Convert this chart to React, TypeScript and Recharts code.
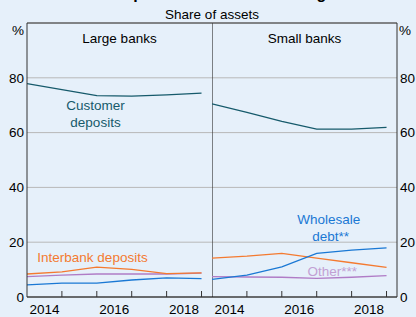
import React from 'react';
import { LineChart, Line, XAxis, YAxis, CartesianGrid, ReferenceLine } from 'recharts';

// year boundaries (labels sit in the middle of each year)
const years = [2014, 2015, 2016, 2017, 2018, 2019];
const yearTicks = [2014, 2015, 2016, 2017, 2018, 2019];
const labelYears = [2014, 2016, 2018];
const yTicks = [0, 20, 40, 60, 80];

const largeCustomer = [77.9, 75.7, 73.5, 73.3, 73.8, 74.4];
const largeInterbank = [8.4, 9.2, 10.9, 10.1, 8.5, 8.8];
const largeWholesale = [4.4, 5.1, 5.1, 6.2, 7.0, 6.7];
const largeOther = [7.4, 8.0, 8.4, 8.4, 8.4, 8.7];

const smallCustomer = [70.5, 67.4, 64.1, 61.3, 61.3, 61.9];
const smallInterbank = [14.2, 14.9, 15.9, 14.2, 12.5, 10.8];
const smallWholesale = [6.4, 8.0, 11.0, 15.9, 17.1, 17.9];
const smallOther = [7.4, 7.3, 7.2, 6.8, 7.2, 7.8];

const C_CUST = '#165a6b';
const C_INTER = '#f47a30';
const C_WHOLE = '#1a78d4';
const C_OTHER = '#b07cc6';
const FRAME = '#333333';
const FONT = '"Liberation Sans", Arial, sans-serif';

const build = (c: number[], i: number[], w: number[], o: number[]) =>
  years.map((yr, k) => ({ yr, cust: c[k], inter: i[k], whole: w[k], other: o[k] }));

const largeData = build(largeCustomer, largeInterbank, largeWholesale, largeOther);
const smallData = build(smallCustomer, smallInterbank, smallWholesale, smallOther);

const YearTick = (props: any) => {
  const { x, y, payload } = props;
  const v = payload.value;
  return (
    <g>
      {v !== 2014 && <line x1={x} y1={y} x2={x} y2={y - 6} stroke={FRAME} strokeWidth={1} />}
      {labelYears.includes(v) && (
        <text x={x + 17.4} y={y + 17} textAnchor="middle" fontSize={13.5} fill="#000" fontFamily={FONT}>
          {v}
        </text>
      )}
    </g>
  );
};

const Panel = ({ data, side }: { data: any[]; side: 'left' | 'right' }) => (
  <LineChart
    width={side === 'left' ? 212 : 204}
    height={317}
    data={data}
    margin={{ top: 23, right: 0, left: 0, bottom: 0 }}
  >
    <CartesianGrid vertical={false} stroke="#b8b8b8" strokeWidth={1} />
    <XAxis
      dataKey="yr"
      type="number"
      domain={[2014, 2019.3]}
      ticks={yearTicks}
      allowDataOverflow
      height={20}
      tickSize={0}
      tickMargin={0}
      tick={<YearTick />}
      axisLine={{ stroke: '#000', strokeWidth: 1 }}
      tickLine={false}
      interval={0}
    />
    <YAxis
      orientation={side}
      width={side === 'left' ? 27 : 19}
      domain={[0, 100]}
      ticks={yTicks}
      tickLine={false}
      tickSize={0}
      tickMargin={3}
      axisLine={{ stroke: FRAME, strokeWidth: 1 }}
      tick={{ fill: '#000', fontSize: 13.5, fontFamily: FONT }}
      interval={0}
    />
    <ReferenceLine y={100} stroke={FRAME} strokeWidth={1} />
    {side === 'right' && <ReferenceLine x={2014} stroke={FRAME} strokeWidth={1.2} />}
    <Line dataKey="other" stroke={C_OTHER} strokeWidth={1.3} dot={false} isAnimationActive={false} />
    <Line dataKey="inter" stroke={C_INTER} strokeWidth={1.3} dot={false} isAnimationActive={false} />
    <Line dataKey="whole" stroke={C_WHOLE} strokeWidth={1.3} dot={false} isAnimationActive={false} />
    <Line dataKey="cust" stroke={C_CUST} strokeWidth={1.3} dot={false} isAnimationActive={false} />
  </LineChart>
);

export default function App() {
  return (
    <div
      style={{
        position: 'absolute',
        left: 0,
        top: 0,
        width: 416,
        height: 317,
        background: '#e6f0fa',
        overflow: 'hidden',
        fontFamily: FONT,
      }}
    >
      <div style={{ position: 'absolute', left: 0, top: 0 }}>
        <Panel data={largeData} side="left" />
      </div>
      <div style={{ position: 'absolute', left: 212, top: 0 }}>
        <Panel data={smallData} side="right" />
      </div>
      <svg
        width={416}
        height={317}
        style={{ position: 'absolute', left: 0, top: 0, pointerEvents: 'none' }}
        fontFamily={FONT}
        fontSize={13.5}
      >
        <text x={212} y={-1.5} textAnchor="middle" fontSize={16} fontWeight="bold" fill="#000">
          Composition of Bank Funding
        </text>
        <text x={212} y={18.5} textAnchor="middle" fill="#000">Share of assets</text>
        <text x={18} y={34.5} textAnchor="middle" fill="#000">%</text>
        <text x={405} y={34.5} textAnchor="middle" fill="#000">%</text>
        <text x={119.5} y={43.3} textAnchor="middle" fill="#000">Large banks</text>
        <text x={304.5} y={43.3} textAnchor="middle" fill="#000">Small banks</text>
        <text x={95.5} y={110} textAnchor="middle" fill={C_CUST}>Customer</text>
        <text x={95.5} y={126.7} textAnchor="middle" fill={C_CUST}>deposits</text>
        <text x={92.5} y={261.7} textAnchor="middle" fill={C_INTER}>Interbank deposits</text>
        <text x={328.7} y={224.3} textAnchor="middle" fill={C_WHOLE}>Wholesale</text>
        <text x={330.7} y={240.7} textAnchor="middle" fill={C_WHOLE}>debt**</text>
        <text x={332.3} y={276} textAnchor="middle" fill="#c2a0d4">Other***</text>
      </svg>
    </div>
  );
}
